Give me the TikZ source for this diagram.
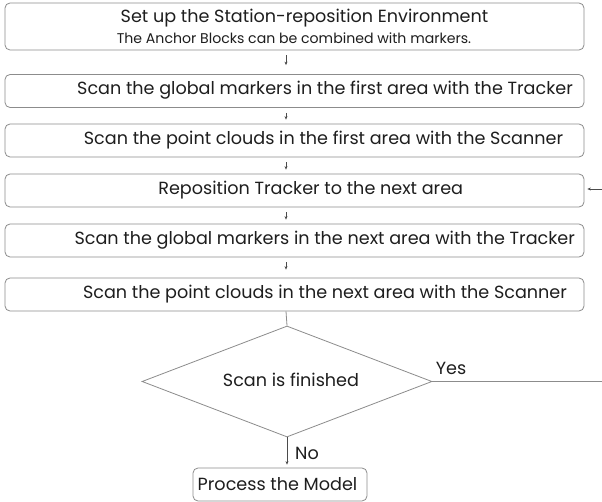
\documentclass[tikz,border=0pt]{standalone}
\usepackage{fontspec}
\setmainfont{Poppins}
\usetikzlibrary{arrows.meta,shapes.geometric}
\definecolor{edge}{HTML}{8C8C8C}
\definecolor{ink}{HTML}{1E1E1E}
\tikzset{
  stepbox/.style={draw=edge,line width=0.8pt,rounded corners=5pt,minimum width=579pt,minimum height=33pt,inner sep=0pt},
  txt/.style={text=ink,font=\fontsize{17.6}{20}\selectfont,inner sep=0pt,anchor=center},
  smalltxt/.style={text=ink,font=\fontsize{14.1}{16}\selectfont,inner sep=0pt,anchor=center},
  arr/.style={draw=ink!80,line width=0.6pt,-{Stealth[length=3.5pt,width=3pt]}},
  conn/.style={draw=edge,line width=0.8pt},
}
\begin{document}
\begin{tikzpicture}[x=1pt,y=-1pt]
\useasboundingbox (0,0) rectangle (602,502);
\fill[white] (0,0) rectangle (602,502);
% boxes
\node[stepbox,minimum height=47pt] (b1) at (294.5,26.5) {};
\node[stepbox] (b2) at (294.5,91) {};
\node[stepbox] (b3) at (294.5,140.5) {};
\node[stepbox] (b4) at (294.5,190.5) {};
\node[stepbox] (b5) at (294.5,240.5) {};
\node[stepbox] (b6) at (294.5,294.5) {};
% texts
\node[txt] (t1a) at (304.5,18) {Set up the Station-reposition Environment};
\node[smalltxt] (t1b) at (294,38) {The Anchor Blocks can be combined with markers.};
\node[txt] (t2) at (325,90) {Scan the global markers in the first area with the Tracker};
\node[txt] (t3) at (323.5,140) {Scan the point clouds in the first area with the Scanner};
\node[txt] (t4) at (310.7,190) {Reposition Tracker to the next area};
\node[txt] (t5) at (324.7,240.5) {Scan the global markers in the next area with the Tracker};
\node[txt] (t6) at (325,294.5) {Scan the point clouds in the next area with the Scanner};
% decision
\node[draw=edge,line width=0.8pt,diamond,minimum width=290pt,minimum height=111pt,inner sep=0pt] (d) at (287,381.5) {};
\node[txt] (td) at (291,380) {Scan is finished};
\node[draw=edge,line width=0.8pt,rounded corners=5pt,minimum width=174pt,minimum height=33pt,inner sep=0pt] (p) at (280,484.5) {};
\node[txt] (tp) at (277.5,484.5) {Process the Model};
\node[txt] (yes) at (451,368) {Yes};
\node[txt] (no) at (307,453) {No};
% connectors
\coordinate (ax) at (286,0);
\coordinate (loopin) at (602,189);
\coordinate (yesend) at (602,381.5);
\draw[arr,shorten <=5pt,shorten >=9pt] (b1.south -| ax) -- (b2.north -| ax);
\draw[arr,shorten <=5pt,shorten >=4pt] (b2.south -| ax) -- (b3.north -| ax);
\draw[arr,shorten <=5pt,shorten >=4pt] (b3.south -| ax) -- (b4.north -| ax);
\draw[arr,shorten <=5pt,shorten >=4pt] (b4.south -| ax) -- (b5.north -| ax);
\draw[arr,shorten <=5pt,shorten >=8pt] (b5.south -| ax) -- (b6.north -| ax);
\draw[arr,shorten >=3pt] (loopin) -- (b4.east |- loopin);
\draw[conn] (b6.south -| ax) -- (d.north);
\draw[conn] (d.east) -- (yesend);
\draw[arr,shorten >=3pt] (d.south) -- (p.north -| d.south);
\end{tikzpicture}
\end{document}
